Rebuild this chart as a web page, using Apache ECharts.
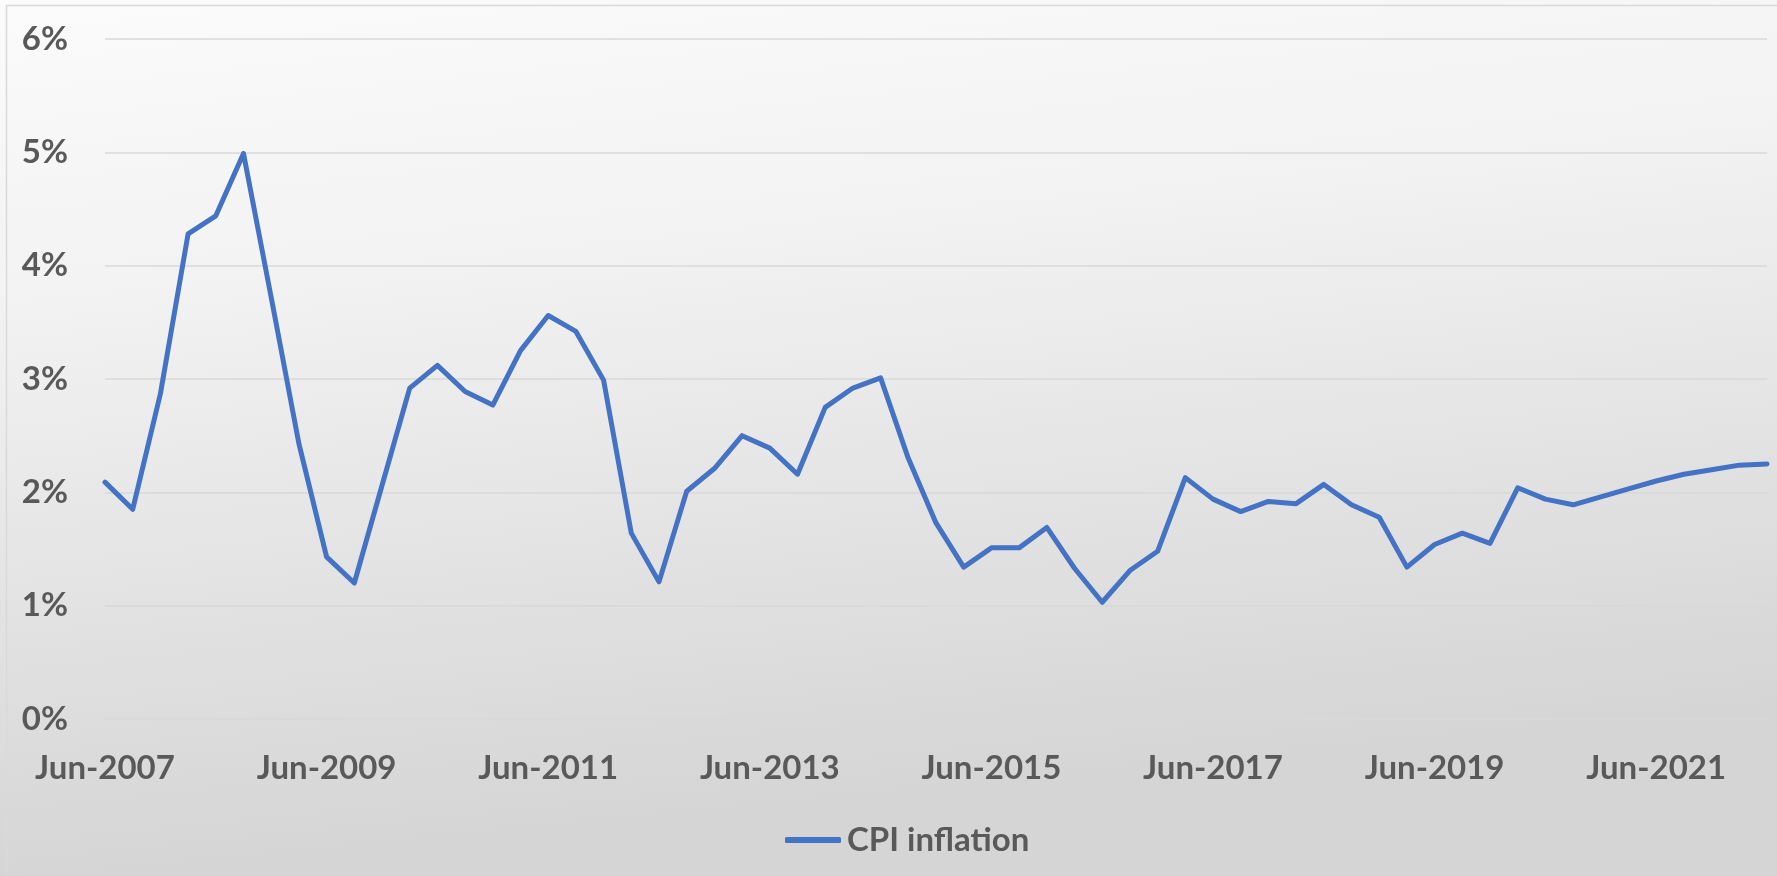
<!DOCTYPE html>
<html>
<head>
<meta charset="utf-8">
<script src="https://cdn.jsdelivr.net/npm/echarts@6/dist/echarts.min.js"></script>
<style>
html,body{margin:0;padding:0;background:#e6e6e6;}
#chart{width:1777px;height:876px;}
</style>
</head>
<body>
<div id="chart"></div>
<script>
const categories = [
  "Jun-2007","Sep-2007","Dec-2007","Mar-2008","Jun-2008","Sep-2008","Dec-2008","Mar-2009",
  "Jun-2009","Sep-2009","Dec-2009","Mar-2010","Jun-2010","Sep-2010","Dec-2010","Mar-2011",
  "Jun-2011","Sep-2011","Dec-2011","Mar-2012","Jun-2012","Sep-2012","Dec-2012","Mar-2013",
  "Jun-2013","Sep-2013","Dec-2013","Mar-2014","Jun-2014","Sep-2014","Dec-2014","Mar-2015",
  "Jun-2015","Sep-2015","Dec-2015","Mar-2016","Jun-2016","Sep-2016","Dec-2016","Mar-2017",
  "Jun-2017","Sep-2017","Dec-2017","Mar-2018","Jun-2018","Sep-2018","Dec-2018","Mar-2019",
  "Jun-2019","Sep-2019","Dec-2019","Mar-2020","Jun-2020","Sep-2020","Dec-2020","Mar-2021",
  "Jun-2021","Sep-2021","Dec-2021","Mar-2022","Jun-2022"
];
const cpiInflation = [
  2.09, 1.85, 2.87, 4.28, 4.44, 4.99, 3.72, 2.43, 1.43, 1.20,
  2.06, 2.92, 3.12, 2.89, 2.77, 3.25, 3.56, 3.42, 2.99, 1.64,
  1.21, 2.01, 2.21, 2.50, 2.39, 2.16, 2.75, 2.92, 3.01, 2.30,
  1.73, 1.34, 1.51, 1.51, 1.69, 1.33, 1.03, 1.31, 1.48, 2.13,
  1.94, 1.83, 1.92, 1.90, 2.07, 1.89, 1.78, 1.34, 1.54, 1.64,
  1.55, 2.04, 1.94, 1.89, 1.96, 2.03, 2.10, 2.16, 2.20, 2.24, 2.25
];
const yTicks = [0, 1, 2, 3, 4, 5, 6];
const seriesName = "CPI inflation";

const chart = echarts.init(document.getElementById('chart'), null, {renderer: 'canvas'});
const txt = '#595959';
const font = 'Lato';
chart.setOption({
  backgroundColor: {
    type: 'linear', x: 0, y: 0, x2: 0.05, y2: 1,
    colorStops: [{offset: 0, color: '#fbfbfb'}, {offset: 0.35, color: '#f2f2f2'}, {offset: 1, color: '#d5d5d5'}]
  },
  animation: false,
  graphic: [{
    type: 'rect', silent: true,
    shape: {x: 6.5, y: 5.5, width: 1800, height: 900},
    style: {fill: 'none', stroke: '#d9d9d9', lineWidth: 1.5}
  }],
  grid: {left: 105, right: 10, top: 39, bottom: 157, containLabel: false},
  legend: {
    data: [seriesName],
    left: 780, top: 815,
    icon: 'roundRect', itemWidth: 56, itemHeight: 6, itemGap: 10,
    textStyle: {color: txt, fontFamily: font, fontWeight: 'bold', fontSize: 33, lineHeight: 40, padding: [0,0,0,1]}
  },
  xAxis: {
    type: 'category', data: categories, boundaryGap: false,
    axisLine: {show: false}, axisTick: {show: false},
    axisLabel: {interval: 7, color: txt, fontFamily: font, fontWeight: 'bold', fontSize: 33, lineHeight: 40, margin: 29},
    splitLine: {show: false}
  },
  yAxis: {
    type: 'value', min: yTicks[0], max: yTicks[yTicks.length - 1], interval: 1,
    axisLine: {show: false}, axisTick: {show: false},
    axisLabel: {formatter: '{value}%', color: txt, fontFamily: font, fontWeight: 'bold', fontSize: 33, margin: 37},
    splitLine: {lineStyle: {color: '#d9d9d9', width: 1.5}}
  },
  series: [{
    name: seriesName, type: 'line', data: cpiInflation,
    symbol: 'none', smooth: false,
    lineStyle: {color: '#4472C4', width: 5, cap: 'round', join: 'round'},
    itemStyle: {color: '#4472C4'}
  }]
});
</script>
</body>
</html>
